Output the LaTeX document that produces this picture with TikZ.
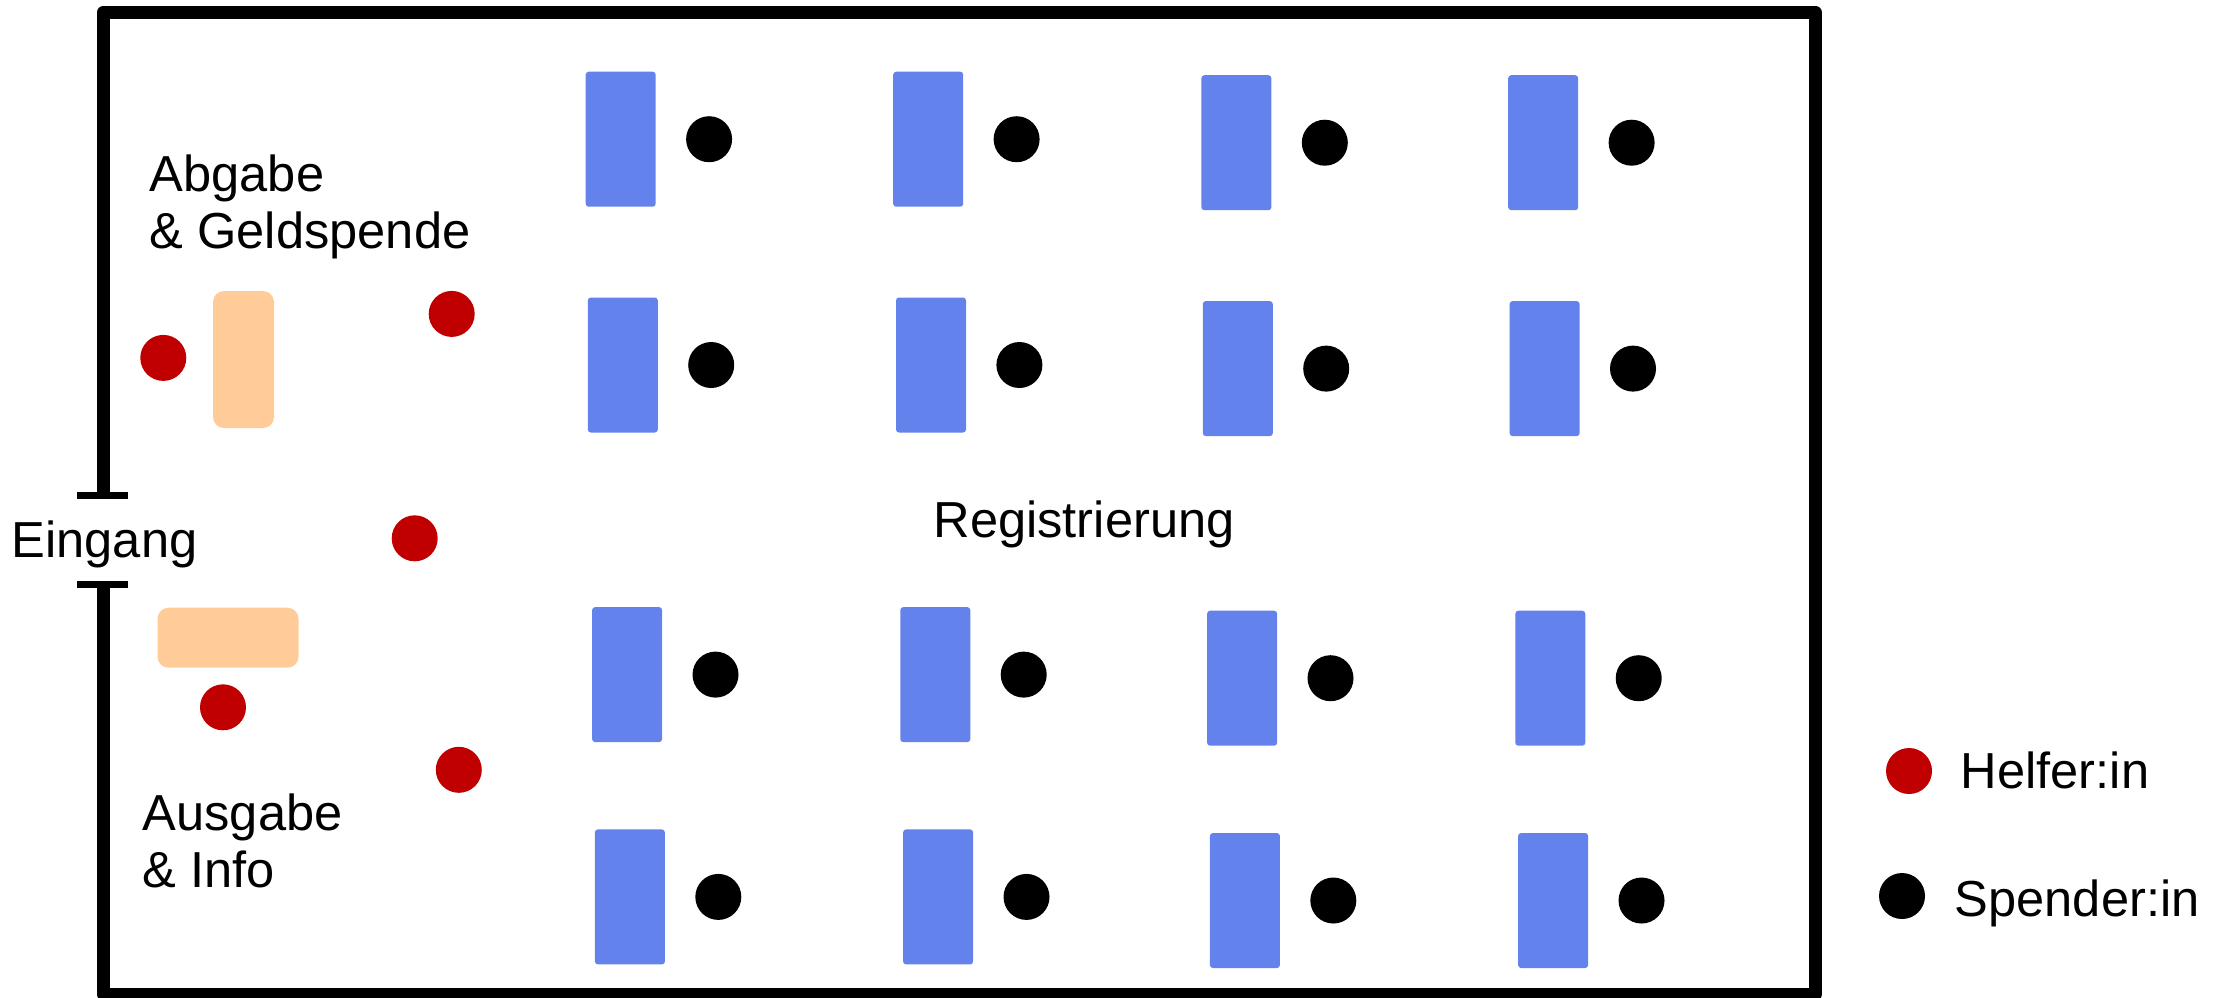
\documentclass[tikz,border=0pt]{standalone}
\usepackage{fontspec}
\setmainfont{Liberation Sans}
\usepackage{xcolor}
\usetikzlibrary{positioning}
\definecolor{deskblue}{RGB}{99,130,235}
\definecolor{tablepeach}{RGB}{255,204,153}
\definecolor{helperred}{RGB}{192,0,0}
\tikzset{
    wall/.style={line width=1.3mm, line join=round, color=black},
    doorstop/.style={line width=0.7mm, color=black},
    desk/.style={rectangle, fill=deskblue, rounded corners=0.3mm, minimum width=7mm, minimum height=13.5mm, inner sep=0pt},
    counter/.style={rectangle, fill=tablepeach, rounded corners=1.1mm, inner sep=0pt},
    person/.style={circle, inner sep=0pt, minimum size=4.6mm},
    donor/.style={person, fill=black},
    helper/.style={person, fill=helperred},
    label/.style={inner sep=0pt, font=\fontsize{14.4}{16.2}\selectfont, align=left}
}

\begin{document}
\begin{tikzpicture}[x=0.1mm, y=-0.1mm]
    \useasboundingbox (0,0) rectangle (2227,997);

    % room with entrance gap
    \draw [wall] (103.5,495) -- (103.5,12) -- (1815,12) -- (1815,994) -- (103.5,994) -- (103.5,584);
    \draw [doorstop] (77,495) -- (128,495);
    \draw [doorstop] (77,584) -- (128,584);
    \node (entrance) [label, anchor=base west] at (11,557) {Eingang};

    % registration desks with donors
    \foreach \px/\py [count=\i] in {620.7/139.2, 928.2/139.2, 1236.4/142.7, 1543.2/142.7,
                                    622.8/365.0, 931.0/365.0, 1237.8/368.6, 1544.6/368.6,
                                    627.1/674.6, 935.3/674.6, 1242.1/678.2, 1550.3/678.2,
                                    629.9/896.9, 938.1/896.9, 1244.9/900.5, 1553.1/900.5} {
        \node (desk\i) [desk] at (\px,\py) {};
        \node (donor\i) [donor, right=2.9mm of desk\i] {};
    }
    \node (reg) [label, anchor=base] at (1084,537) {Registrierung};

    % drop-off and output counters
    \node (dropoff) [counter, minimum width=6.1mm, minimum height=13.7mm] at (243.5,359.5) {};
    \node (output) [counter, minimum width=14.1mm, minimum height=6mm] at (228,637.7) {};
    \node (droplabel) [label, anchor=base west] at (149,248.5) {Abgabe\\ \& Geldspende};
    \node (outlabel) [label, anchor=base west] at (142,887.5) {Ausgabe\\ \& Info};

    \node (helper1) [helper] at (163.3,357.9) {};
    \node (helper2) [helper] at (451.7,313.9) {};
    \node (helper3) [helper] at (414.7,538.3) {};
    \node (helper4) [helper] at (223.0,707.3) {};
    \node (helper5) [helper] at (458.8,769.8) {};

    % legend
    \node (keyhelper) [helper] at (1909,771) {};
    \node (keydonor) [donor] at (1902,896) {};
    \node [label, anchor=base west] at (1960,788) {Helfer:in};
    \node [label, anchor=base west] at (1954,916) {Spender:in};
\end{tikzpicture}
\end{document}
